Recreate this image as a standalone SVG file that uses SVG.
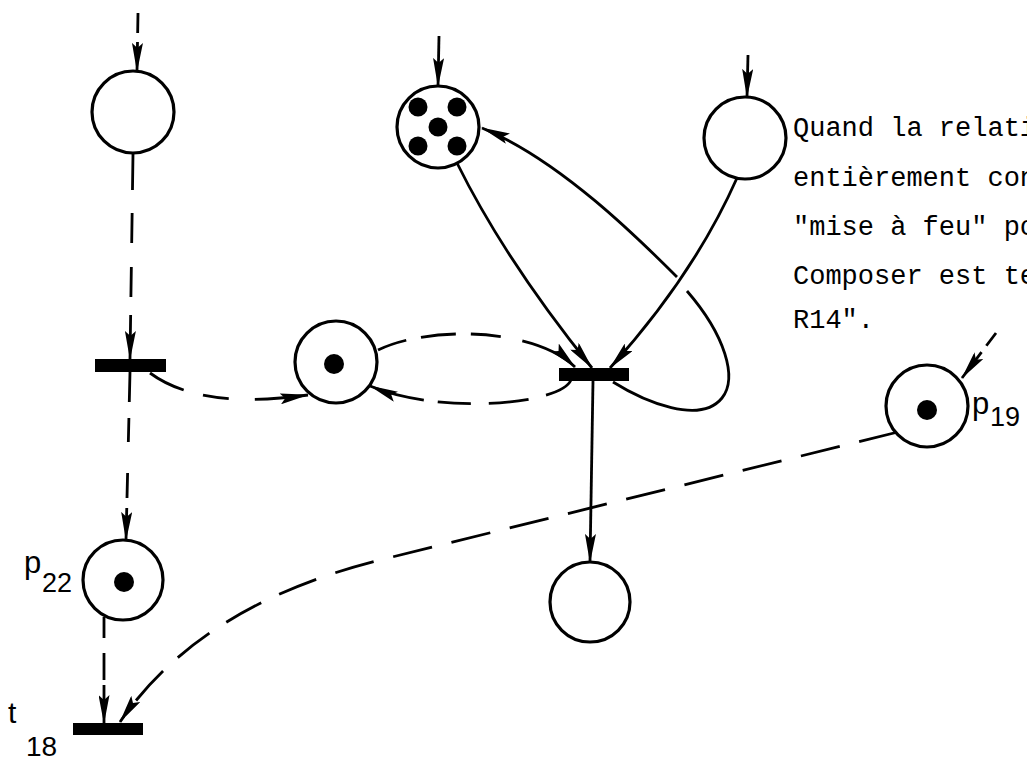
<svg xmlns="http://www.w3.org/2000/svg" width="1027" height="765" viewBox="0 0 1027 765">
<style>
.n{fill:#fff;stroke:#000;stroke-width:3.2}
.tk{fill:#000}
.bar{fill:#000}
.c{fill:none;stroke:#000;stroke-width:2.8}
.lbl{font-family:"Liberation Sans",Arial,sans-serif;fill:#000}
.txt{font-family:"Liberation Mono","Courier New",monospace;font-size:27px;fill:#000}
</style>
<defs>
<marker id="ah" viewBox="0 0 29 11" refX="28" refY="5.5" markerWidth="29" markerHeight="11" markerUnits="userSpaceOnUse" orient="auto">
<path d="M0,0 L29,5.5 L0,11 L5,5.5 Z" fill="#000"/>
</marker>
</defs>
<rect width="1027" height="765" fill="#fff"/>
<g id="connectors">
<path class="c" d="M138,13 L137,71" stroke-dasharray="20 9 60" marker-end="url(#ah)"/>
<path class="c" d="M133,154 L130,359" stroke-dasharray="36 23 30 24 30 18 100" marker-end="url(#ah)"/>
<path class="c" d="M130,372 L126,540" stroke-dasharray="30 16 24 31 25 10 100" marker-end="url(#ah)"/>
<path class="c" d="M104,617 L104,723" stroke-dasharray="21 15 27 5 100" marker-end="url(#ah)"/>
<path class="c" d="M898,432 L380,560 Q200,605 120,722" stroke-dasharray="40 20" marker-end="url(#ah)"/>
<path class="c" d="M996,333 L962,378" stroke-dasharray="16 8 100" marker-end="url(#ah)"/>
<path class="c" d="M150,373 Q200,410 308,395" stroke-dasharray="38 20 26 26 100" marker-end="url(#ah)"/>
<path class="c" d="M378,350 C430,325 535,328 575,367" stroke-dasharray="30 15 35 15 30 22 200" marker-end="url(#ah)"/>
<path class="c" d="M571,380 C560,405 440,415 370,386" stroke-dasharray="30 18 40 18 33 14 200" marker-end="url(#ah)"/>
<path class="c" d="M457,163 Q505,260 592,368" marker-end="url(#ah)"/>
<path class="c" d="M737,178 Q694,275 610,368" marker-end="url(#ah)"/>
<path class="c" d="M613,382 C645,402 700,425 722,398 C738,378 725,335 687,291"/>
<path class="c" d="M677,277 C640,240 560,160 482,128" marker-end="url(#ah)"/>
<path class="c" d="M439,36 L438,86" marker-end="url(#ah)"/>
<path class="c" d="M748,55 L747,97" marker-end="url(#ah)"/>
<path class="c" d="M593,381 L590,562" marker-end="url(#ah)"/>
</g>
<g id="place-top-left"><circle class="n" cx="133" cy="112" r="41"/></g>
<g id="place-five-tokens">
<circle class="n" cx="438" cy="127" r="41"/>
<circle class="tk" cx="418" cy="107" r="9.5"/>
<circle class="tk" cx="457" cy="107" r="9.5"/>
<circle class="tk" cx="438" cy="127" r="9.5"/>
<circle class="tk" cx="418" cy="146" r="9.5"/>
<circle class="tk" cx="457" cy="146" r="9.5"/>
</g>
<g id="place-top-right"><circle class="n" cx="745" cy="138" r="41"/></g>
<g id="place-middle">
<circle class="n" cx="336" cy="362" r="41"/>
<circle class="tk" cx="334" cy="364" r="10"/>
</g>
<g id="place-bottom"><circle class="n" cx="590" cy="602" r="40"/></g>
<g id="p22">
<circle class="n" cx="123" cy="580" r="40"/>
<circle class="tk" cx="124" cy="582" r="10"/>
<text class="lbl" x="24" y="573" font-size="31">p</text>
<text class="lbl" x="42" y="592" font-size="27">22</text>
</g>
<g id="p19">
<circle class="n" cx="927" cy="406" r="41"/>
<circle class="tk" cx="927" cy="410" r="10"/>
<text class="lbl" x="972" y="414" font-size="31">p</text>
<text class="lbl" x="990" y="426" font-size="27">19</text>
</g>
<g id="transition-left"><rect class="bar" x="95" y="359" width="71" height="13"/></g>
<g id="transition-right"><rect class="bar" x="559" y="368" width="70" height="13"/></g>
<g id="t18">
<rect class="bar" x="73" y="723" width="70" height="12"/>
<text class="lbl" x="8" y="723" font-size="30">t</text>
<text class="lbl" x="26" y="756" font-size="28">18</text>
</g>
<g id="note">
<text class="txt" x="793" y="136">Quand la relati</text>
<text class="txt" x="793" y="186">entièrement con</text>
<text class="txt" x="793" y="235">"mise à feu" po</text>
<text class="txt" x="793" y="284">Composer est te</text>
<text class="txt" x="793" y="328">R14".</text>
</g>
</svg>
